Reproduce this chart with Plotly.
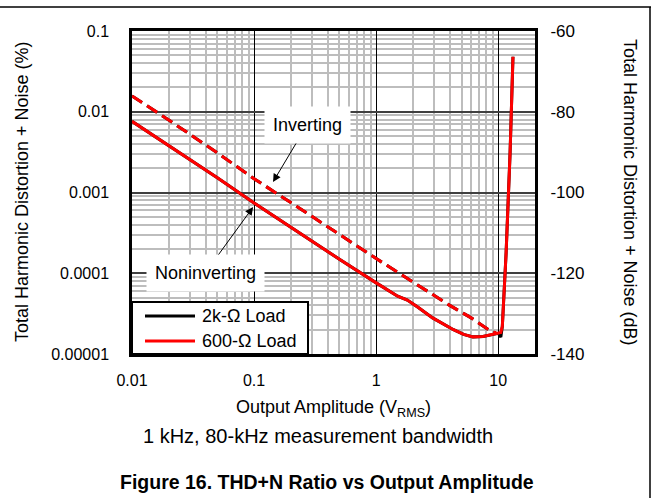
import plotly.graph_objects as go

# ---- data ----
amp_noninv = [0.01, 0.02, 0.05, 0.1, 0.2, 0.5, 1.0, 1.3, 1.5, 1.8, 2.2, 2.9, 4.3, 5.2, 6.2,
              7.5, 8.6, 10.0, 10.5, 10.8, 11.6, 12.5, 13.2]
thd_noninv_600 = [0.0076, 0.0038, 0.00152, 0.00074, 0.00037, 0.000149, 0.000076, 0.000059,
                  0.000052, 0.0000465, 0.000038, 0.000028, 0.000020, 0.0000175, 0.0000163,
                  0.0000165, 0.0000172, 0.000018, 0.0000185, 0.000022, 0.00018, 0.0031, 0.048]
thd_noninv_2k = [0.0076, 0.0038, 0.00152, 0.00074, 0.00037, 0.000149, 0.000076, 0.000059,
                 0.000052, 0.0000465, 0.000038, 0.000028, 0.000020, 0.0000175, 0.0000163,
                 0.0000165, 0.0000172, 0.000018, 0.0000162, 0.000022, 0.00018, 0.0031, 0.048]

amp_inv = [0.01, 0.02, 0.05, 0.1, 0.2, 0.5, 1.0, 2.0, 4.0, 6.0, 8.9, 9.6]
thd_inv_600 = [0.0157, 0.0079, 0.0031, 0.00148, 0.00075, 0.0003, 0.000152, 0.000078,
               0.00004, 0.000028, 0.0000187, 0.0000183]
thd_inv_2k = list(thd_inv_600)

series_names = ["2k-Ω Load", "600-Ω Load"]
series_colors = ["black", "#ff0000"]

x_tick_vals = [0.01, 0.1, 1, 10]
x_tick_text = ["0.01", "0.1", "1", "10"]
y_tick_vals = [0.1, 0.01, 0.001, 0.0001, 0.00001]
y_tick_text = ["0.1", "0.01", "0.001", "0.0001", "0.00001"]
db_tick_vals = [-140, -120, -100, -80, -60]
db_tick_text = ["-140", "-120", "-100", "-80", "-60"]

x_minor = [m * d for d in (0.01, 0.1, 1, 10) for m in range(2, 10) if m * d <= 20]
y_minor = [m * d for d in (0.00001, 0.0001, 0.001, 0.01) for m in range(2, 10)]

FONT = "Liberation Sans, Arial, sans-serif"
DASH = "12px,6px"

fig = go.Figure()
fig.add_trace(go.Scatter(x=amp_noninv, y=thd_noninv_2k, mode="lines", name=series_names[0],
                         showlegend=False, line=dict(color=series_colors[0], width=3)))
fig.add_trace(go.Scatter(x=amp_inv, y=thd_inv_2k, mode="lines", name=series_names[0] + " (inverting)",
                         showlegend=False, line=dict(color=series_colors[0], width=3, dash=DASH)))
fig.add_trace(go.Scatter(x=amp_inv, y=thd_inv_600, mode="lines", name=series_names[1] + " (inverting)",
                         showlegend=False, line=dict(color=series_colors[1], width=3, dash=DASH)))
fig.add_trace(go.Scatter(x=amp_noninv, y=thd_noninv_600, mode="lines", name=series_names[1],
                         showlegend=False, line=dict(color=series_colors[1], width=3)))
# invisible trace to activate the right dB axis
fig.add_trace(go.Scatter(x=[0.01], y=[-100], yaxis="y2", mode="markers",
                         marker=dict(opacity=0), showlegend=False, hoverinfo="skip"))

L, R, T, B = 132, 535, 31, 354
W, H = 652, 498
pw, ph = R - L, B - T


def px(xp):
    return (xp - L) / pw


def py(yp):
    return (B - yp) / ph


fig.update_layout(
    width=W, height=H,
    margin=dict(l=L, r=W - R, t=T, b=H - B, pad=0),
    paper_bgcolor="white", plot_bgcolor="white",
    font=dict(family=FONT, size=16, color="black"),
    showlegend=False,
    xaxis=dict(type="log", range=[-2, 1.30103], tickmode="array",
               tickvals=x_tick_vals, ticktext=x_tick_text,
               ticks="outside", ticklen=10, tickcolor="rgba(0,0,0,0)",
               showgrid=True, gridcolor="black", gridwidth=1,
               minor=dict(tickmode="array", tickvals=x_minor, showgrid=True,
                          gridcolor="#bdbdbd", gridwidth=1.6, ticks=""),
               showline=True, linecolor="black", linewidth=2.5, mirror=True,
               zeroline=False, tickfont=dict(size=16)),
    yaxis=dict(type="log", range=[-5, -1], tickmode="array",
               tickvals=y_tick_vals, ticktext=y_tick_text,
               ticks="outside", ticklen=17, tickcolor="rgba(0,0,0,0)",
               showgrid=True, gridcolor="#404040", gridwidth=2,
               minor=dict(tickmode="array", tickvals=y_minor, showgrid=True,
                          gridcolor="#bdbdbd", gridwidth=1.6, ticks=""),
               showline=True, linecolor="black", linewidth=2.5, mirror=True,
               zeroline=False, tickfont=dict(size=16)),
    yaxis2=dict(overlaying="y", side="right", range=[-140, -60], tickmode="array",
                tickvals=db_tick_vals, ticktext=db_tick_text,
                ticks="outside", ticklen=11, tickcolor="rgba(0,0,0,0)",
                showgrid=False, zeroline=False, showline=False,
                tickfont=dict(size=17)),
)

C = dict(xanchor="center", yanchor="middle", showarrow=False)
annotations = [
    dict(text="Total Harmonic Distortion + Noise (%)", xref="paper", yref="paper",
         x=px(22), y=py(192), textangle=-90, font=dict(size=18), **C),
    dict(text="Total Harmonic Distortion + Noise (dB)", xref="paper", yref="paper",
         x=px(630), y=py(192), textangle=90, font=dict(size=18), **C),
    dict(text="Output Amplitude (V<sub>RMS</sub>)", xref="paper", yref="paper",
         x=px(333), y=py(408), font=dict(size=18), **C),
    dict(text="1 kHz, 80-kHz measurement bandwidth", xref="paper", yref="paper",
         x=px(318), y=py(436), font=dict(size=20), **C),
    dict(text="<b>Figure 16. THD+N Ratio vs Output Amplitude</b>", xref="paper", yref="paper",
         x=px(327), y=py(482), font=dict(size=19.5), **C),
    dict(text="Inverting", x=-0.845, y=-2.870, xref="x", yref="y",
         ax=34, ay=-57, showarrow=True, arrowhead=2, arrowsize=1.6, arrowwidth=1,
         arrowcolor="black", bgcolor="white", borderpad=8, font=dict(size=18)),
    dict(text="Noninverting", x=-1.008, y=-3.18, xref="x", yref="y",
         ax=-48, ay=66, showarrow=True, arrowhead=2, arrowsize=1.6, arrowwidth=1,
         arrowcolor="black", bgcolor="white", borderpad=8, font=dict(size=18)),
]

# legend box drawn in the lower-left corner of the plot
leg_rows_y = [316, 341]
for name, color, ry in zip(series_names, series_colors, leg_rows_y):
    annotations.append(dict(text=name, xref="paper", yref="paper", x=px(200), y=py(ry),
                            xanchor="left", yanchor="middle", showarrow=False,
                            font=dict(size=18)))
fig.update_layout(annotations=annotations)

shapes = [
    dict(type="line", xref="paper", yref="paper", x0=px(0), x1=px(651), y0=py(7), y1=py(7),
         line=dict(color="black", width=1.5)),
    dict(type="line", xref="paper", yref="paper", x0=px(650), x1=px(650), y0=py(7), y1=py(498),
         line=dict(color="black", width=1.5)),
    dict(type="rect", xref="paper", yref="paper", x0=px(132), x1=px(308), y0=py(354), y1=py(302),
         fillcolor="white", line=dict(color="black", width=2), layer="above"),
]
for color, ry in zip(series_colors, leg_rows_y):
    shapes.append(dict(type="line", xref="paper", yref="paper", x0=px(145), x1=px(195),
                       y0=py(ry), y1=py(ry), line=dict(color=color, width=3), layer="above"))
fig.update_layout(shapes=shapes)

fig.write_html("out.html", config={"displayModeBar": False},
               post_script="document.body.style.margin='0';")
